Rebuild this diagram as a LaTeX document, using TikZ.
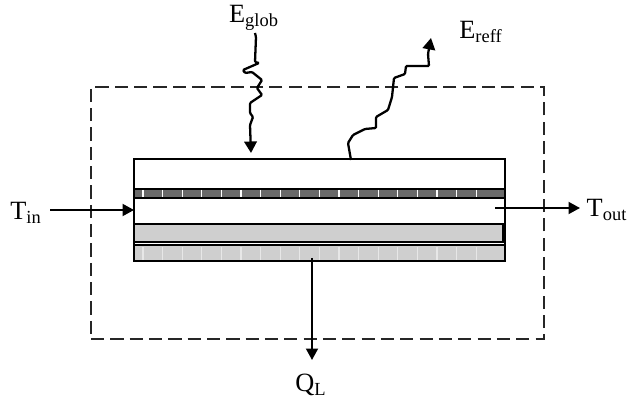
\documentclass[tikz,border=0pt]{standalone}
\usepackage{fontspec}
\setmainfont{Liberation Serif}
\usetikzlibrary{arrows.meta, positioning}
\definecolor{absorbgray}{HTML}{6A6A6A}
\definecolor{layergray}{HTML}{CFCFCF}
\newcommand{\lbl}[2]{#1\textsubscript{#2}}

\begin{document}
\begin{tikzpicture}[
  x=0.02cm, y=-0.02cm,
  node distance=0pt,
  layer/.style={rectangle, draw=black, fill=#1, minimum width=7.42cm, inner sep=0pt, outer sep=0pt, line width=0.7pt},
  label/.style={font=\fontsize{15}{17}\selectfont, inner sep=0pt},
  arr/.style={-{Triangle[length=2.3mm, width=2.4mm]}, black, line width=1.1pt},
  wavy/.style={-{Triangle[length=2.3mm, width=2.5mm]}, black, line width=1.3pt, rounded corners=0.6pt},
  slit/.style={white, line width=0.6pt},
]
  \useasboundingbox (0,0) rectangle (630,402);

  % Boundary
  \node[draw=black!85, line width=0.8pt, dash pattern=on 7.5pt off 3.5pt, minimum width=9.06cm, minimum height=5.04cm, inner sep=0pt] (boundary) at (317.5,213) {};

  % Collector layers
  \node[layer=white, minimum height=0.6cm] (cover) at (319.5,174) {};
  \node[layer=absorbgray, minimum height=0.18cm, below=of cover] (absorber) {};
  \node[layer=white, minimum height=0.52cm, below=of absorber] (channel) {};
  \node[layer=layergray, minimum height=0.36cm, below=of channel] (plate) {};
  \node[layer=white, minimum height=0.06cm, below=of plate] (gap) {};
  \node[layer=layergray, minimum height=0.32cm, below=of gap] (insulation) {};
  \draw[black, line width=1.4pt] (plate.north east) ++(-2,0) -- ++(0,18);

  % Slits
  \foreach \i in {0,...,17} {
    \draw[slit] (143+19.6*\i,190) -- ++(0,7);
    \draw[slit, opacity=0.5] (143+19.6*\i,247) -- ++(0,13);
  }

  % Labels
  \node[label] (tin) at (26,213) {\lbl{T}{in}};
  \node[label] (tout) at (607,210) {\lbl{T}{out}};
  \node[label] (eglob) at (254,18) {\lbl{E}{glob}};
  \node[label] (ereff) at (481,32) {\lbl{E}{reff}};
  \node[label] (ql) at (311,385) {\lbl{Q}{L}};

  % Heat flows
  \coordinate (inlet) at (channel.west);
  \coordinate (outlet) at (495,208);
  \coordinate (outend) at (580,208);
  \coordinate (lossstart) at (312,258);
  \coordinate (lossend) at (312,360);
  \coordinate (instart) at (50,210);
  \draw[arr] (instart) -- (instart -| inlet);
  \draw[arr] (outlet) -- (outend);
  \draw[arr] (lossstart) -- (lossend);

  % Radiation
  \draw[wavy] (255,33) -- (256,37) -- (255,62) -- (259,63) -- (243,70) -- (245,73) -- (252,72) -- (262,80) -- (257,88) -- (262,95) -- (250,103) -- (250,113) -- (253,117) -- (250,125) -- (251,153);
  \draw[wavy] (351,160) -- (348,143) -- (353,135) -- (365,129) -- (376,128) -- (376,117) -- (388,110) -- (392,97) -- (394,78) -- (405,74) -- (406,66) -- (429,66) -- (428,54) -- (431,38);
\end{tikzpicture}
\end{document}
